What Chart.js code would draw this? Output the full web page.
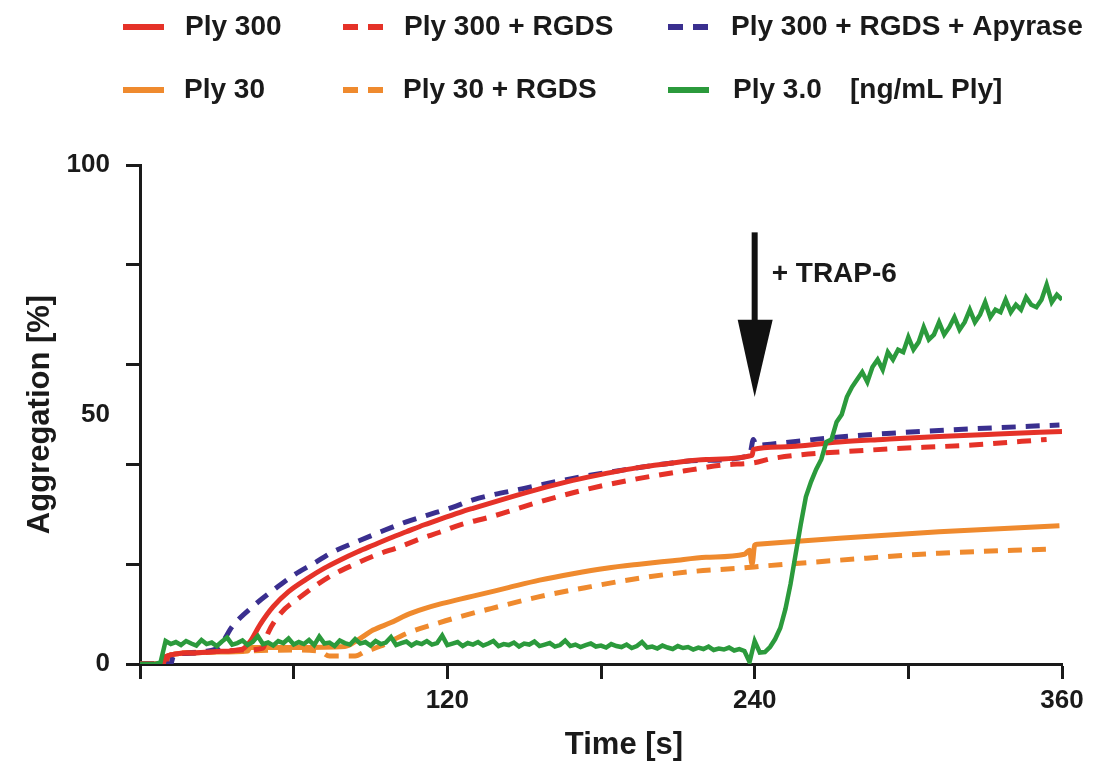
<!DOCTYPE html>
<html>
<head>
<meta charset="utf-8">
<script src="https://cdn.jsdelivr.net/npm/chart.js@4"></script>
<style>
  body { margin: 0; background: #fff; }
  #wrap { width: 1097px; height: 765px; }
</style>
</head>
<body>
<div id="wrap"><canvas id="myChart"></canvas></div>
<script>
// time [s] / aggregation [%]
let ply300T = [0, 9, 10, 20, 30, 40, 43, 47, 52, 58, 65, 72, 78, 85, 91, 98, 104, 111, 117, 125, 130, 143, 156, 169, 182, 195, 208, 221, 239, 239.5, 250, 273, 290, 312, 335, 360];
let ply300V = [0, 0, 1.5, 2.2, 2.5, 3.0, 4.5, 8, 11.5, 14.5, 17, 19.2, 20.8, 22.5, 23.8, 25.3, 26.5, 27.9, 29.0, 30.4, 31.2, 33.2, 35.1, 36.8, 38.2, 39.4, 40.3, 41.0, 41.8, 43.0, 43.5, 44.5, 45.0, 45.6, 46.1, 46.6];

let ply300rT = [0, 10, 11, 20, 30, 40, 48, 50, 55, 62, 68, 75, 83, 92, 101.5, 109, 117, 125, 137, 156, 176, 195, 215, 228, 239.5, 247, 286, 325, 354];
let ply300rV = [0, 0, 1.6, 2.2, 2.5, 2.8, 3.2, 6.2, 10.2, 13.2, 15.5, 17.8, 19.8, 21.8, 23.5, 25.0, 26.4, 27.9, 29.5, 32.5, 35.2, 37.2, 38.9, 39.9, 40.3, 41.2, 42.9, 43.9, 45.0];

let apyT = [0, 12, 13, 20, 25, 31, 36, 44, 52, 60, 68, 75.5, 86, 94, 104, 112, 122, 130, 150, 169, 189, 202, 219, 238, 239.5, 240.5, 247, 273, 312, 359];
let apyV = [0, 0, 1.5, 2.2, 2.5, 3.5, 7.5, 11.5, 14.8, 17.8, 20.2, 22.5, 24.8, 26.5, 28.5, 29.8, 31.4, 32.9, 35.2, 37.2, 38.9, 39.9, 40.8, 41.8, 45.0, 43.8, 44.1, 45.5, 46.8, 47.9];

let ply30T = [0, 9, 10, 20, 30, 42, 43, 60, 80, 85, 91, 98, 104, 111, 117, 125, 130, 143, 156, 169, 182, 195, 208, 221, 236, 238, 239, 240, 241, 273, 312, 359];
let ply30V = [0, 0, 1.5, 2.2, 2.4, 2.6, 3.3, 3.3, 3.5, 4.8, 6.8, 8.3, 9.8, 11.1, 12.0, 13.0, 13.6, 15.2, 16.8, 18.1, 19.2, 20.0, 20.7, 21.4, 22.0, 22.8, 20.0, 23.8, 24.0, 25.2, 26.5, 27.7];

let ply30rT = [0, 10, 11, 20, 40, 60, 70, 74, 84, 88, 94, 104, 117, 125, 137, 156, 176, 195, 215, 234, 245, 273, 312, 354];
let ply30rV = [0, 0, 1.5, 2.3, 2.6, 2.8, 2.6, 1.6, 1.6, 2.5, 3.6, 6.1, 8.3, 9.5, 11.1, 13.5, 15.5, 17.2, 18.5, 19.2, 19.7, 20.8, 22.2, 23.0];

// Ply 3.0 is a noisy trace, one reading every 2 s from 0 to 360 s
let ply3Step = 2;
let ply3V = [
  0, 0, 0, 0, 0.3, 4.6,
  4.0, 4.4, 3.8, 4.6, 4.1, 3.7, 4.8, 4.0, 4.3, 3.6,
  4.5, 5.3, 3.9, 4.2, 4.7, 3.8, 4.4, 5.6, 4.0, 4.3,
  3.7, 4.6, 4.2, 5.1, 3.9, 4.4, 4.0, 4.8, 3.8, 5.5,
  4.1, 4.3, 3.6, 4.7, 4.2, 3.9, 5.0, 4.1, 4.4, 3.7,
  4.6, 4.0, 4.3, 5.4, 3.8, 4.2, 4.5, 3.7, 4.3, 4.0,
  4.6, 3.9, 4.2, 5.7, 3.8, 4.1, 4.4, 3.6, 4.2, 3.9,
  4.4, 3.7, 4.1, 4.6, 3.6, 4.0, 3.8, 4.3, 3.5, 4.1,
  3.9, 4.5, 3.6, 3.9, 4.2, 3.5, 3.8, 4.7, 3.6, 3.9,
  3.4, 3.8, 4.1, 3.5, 3.7, 3.3, 4.0, 3.6, 3.4, 3.9,
  3.2, 3.6, 4.4, 3.3, 3.5, 3.1, 3.7, 3.3, 3.0, 3.6,
  3.2, 3.4, 2.9, 3.3, 3.0, 3.5, 2.8, 3.1, 2.9, 3.3,
  2.7, 3.0, 2.6, 0.4,
  4.6, 2.3, 2.4, 3.4, 5.0, 7.2, 11.0, 16.0, 22.0, 28.0,
  33.5, 36.5, 39.0, 41.0, 44.5, 45.0, 48.5, 50.0, 53.5, 55.5,
  57.0, 58.5, 56.5, 59.5, 61.0, 59.0, 62.5, 61.0, 63.0, 62.5,
  65.5, 63.0, 64.5, 67.5, 65.0, 66.0, 68.5, 66.0, 67.5, 69.5,
  67.0, 68.5, 71.0, 68.5, 70.0, 72.5, 69.5, 71.0, 70.5, 73.0,
  70.5, 72.0, 71.0, 73.5, 72.0, 71.5, 73.0, 76.0, 72.5, 74.0,
  73.0
];

let xTicksShown = [120, 240, 360];
let yTicksShown = [0, 50, 100];

const red = "#e53228";
const orange = "#ef8a2e";
const blue = "#3a2f8f";
const green = "#2b9a3c";
const ink = "#1a1a1a";
const fontFam = "'Liberation Sans', Arial, sans-serif";

function pts(ts, vs) {
  return ts.map((t, i) => ({ x: t, y: vs[i] }));
}

let ply3Pts = ply3V.map((v, i) => ({ x: i * ply3Step, y: v }));

const dash = [14, 10];

const datasets = [
  { label: "Ply 3.0", data: ply3Pts, borderColor: green, borderWidth: 4.5, tension: 0 },
  { label: "Ply 300", data: pts(ply300T, ply300V), borderColor: red, borderWidth: 5, cubicInterpolationMode: "monotone" },
  { label: "Ply 300 + RGDS + Apyrase", data: pts(apyT, apyV), borderColor: blue, borderWidth: 5, borderDash: dash, cubicInterpolationMode: "monotone" },
  { label: "Ply 300 + RGDS", data: pts(ply300rT, ply300rV), borderColor: red, borderWidth: 5, borderDash: dash, cubicInterpolationMode: "monotone" },
  { label: "Ply 30", data: pts(ply30T, ply30V), borderColor: orange, borderWidth: 5, cubicInterpolationMode: "monotone" },
  { label: "Ply 30 + RGDS", data: pts(ply30rT, ply30rV), borderColor: orange, borderWidth: 5, borderDash: dash, cubicInterpolationMode: "monotone" }
];

// legend slots: [label, line start x, text x, row y]
const legendSlots = [
  ["Ply 300", 123, 185, 27],
  ["Ply 300 + RGDS", 343, 404, 27],
  ["Ply 300 + RGDS + Apyrase", 668, 731, 27],
  ["Ply 30", 123, 184, 90],
  ["Ply 30 + RGDS", 343, 403, 90],
  ["Ply 3.0", 668, 733, 90]
];

const overlay = {
  id: "overlay",
  afterDraw(chart) {
    const ctx = chart.ctx;
    const xs = chart.scales.x;
    const ys = chart.scales.y;
    ctx.save();

    // legend
    ctx.font = "bold 28px " + fontFam;
    ctx.textBaseline = "middle";
    ctx.textAlign = "left";
    legendSlots.forEach(s => {
      const ds = chart.data.datasets.find(d => d.label === s[0]);
      ctx.strokeStyle = ds.borderColor;
      ctx.lineWidth = 6;
      ctx.lineCap = "butt";
      ctx.setLineDash(ds.borderDash ? [15, 10] : []);
      ctx.beginPath();
      ctx.moveTo(s[1], s[3]);
      ctx.lineTo(s[1] + 41, s[3]);
      ctx.stroke();
      ctx.setLineDash([]);
      ctx.fillStyle = ink;
      ctx.fillText(s[0], s[2], s[3]);
    });
    ctx.fillText("[ng/mL Ply]", 850, 90);

    // TRAP-6 arrow
    const ax = xs.getPixelForValue(240);
    const top = ys.getPixelForValue(86.5);
    const base = ys.getPixelForValue(69);
    const tip = ys.getPixelForValue(53.5);
    ctx.fillStyle = "#111";
    ctx.fillRect(ax - 3, top, 6, base - top + 2);
    ctx.beginPath();
    ctx.moveTo(ax - 17, base);
    ctx.lineTo(ax + 18, base);
    ctx.lineTo(ax, tip);
    ctx.closePath();
    ctx.fill();
    ctx.fillStyle = ink;
    ctx.fillText("+ TRAP-6", ax + 17, ys.getPixelForValue(78));

    // axis titles
    ctx.font = "bold 31px " + fontFam;
    ctx.textAlign = "center";
    ctx.fillText("Time [s]", 624, 745);
    ctx.translate(40, (chart.chartArea.top + chart.chartArea.bottom) / 2);
    ctx.rotate(-Math.PI / 2);
    ctx.fillText("Aggregation [%]", 0, 0);

    ctx.restore();
  }
};

const bg = {
  id: "bg",
  beforeDraw(chart) {
    const ctx = chart.ctx;
    ctx.save();
    ctx.fillStyle = "#fff";
    ctx.fillRect(0, 0, chart.width, chart.height);
    ctx.restore();
  }
};

const myChart = new Chart(document.getElementById("myChart"), {
  type: "line",
  data: { datasets },
  options: {
    responsive: true,
    maintainAspectRatio: false,
    animation: false,
    parsing: false,
    layout: { padding: { top: 165, right: 35, left: 0, bottom: 0 } },
    elements: {
      point: { radius: 0 },
      line: { borderCapStyle: "butt", fill: false }
    },
    plugins: {
      legend: { display: false },
      tooltip: { enabled: false }
    },
    scales: {
      x: {
        type: "linear",
        min: 0,
        max: 360,
        afterFit(s) { s.height = 101; },
        border: { display: true, color: ink, width: 3 },
        grid: { drawOnChartArea: false, drawTicks: true, tickLength: 15, tickWidth: 3, tickColor: ink },
        ticks: {
          stepSize: 60,
          padding: 6,
          color: ink,
          font: { size: 26, weight: "bold", family: fontFam },
          maxRotation: 0,
          autoSkip: false,
          callback: v => xTicksShown.includes(v) ? String(v) : ""
        }
      },
      y: {
        min: 0,
        max: 100,
        afterFit(s) { s.width = 140; },
        border: { display: true, color: ink, width: 3 },
        grid: {
          drawOnChartArea: false,
          drawTicks: true,
          tickLength: 14,
          tickWidth: 3,
          tickColor: c => (c.tick && c.tick.value % 20 === 0) ? ink : "rgba(0,0,0,0)"
        },
        ticks: {
          stepSize: 10,
          padding: 16,
          color: ink,
          font: { size: 26, weight: "bold", family: fontFam },
          autoSkip: false,
          callback: v => yTicksShown.includes(v) ? String(v) : ""
        }
      }
    }
  },
  plugins: [bg, overlay]
});
</script>
</body>
</html>
